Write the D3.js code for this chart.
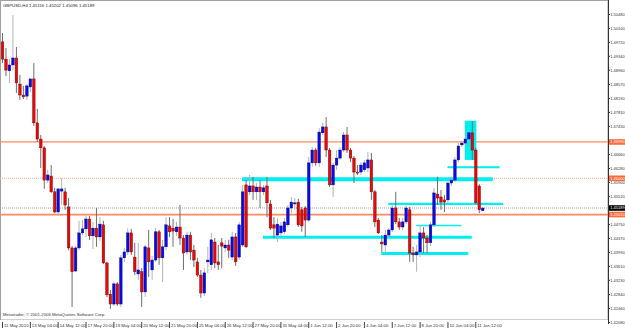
<!DOCTYPE html>
<html>
<head>
<meta charset="utf-8">
<script src="https://cdn.jsdelivr.net/npm/d3@7"></script>
<style>
body { margin: 0; background: #fff; }
text { font-family: "Liberation Sans", Arial, sans-serif; }
</style>
</head>
<body>
<div id="chart"></div>
<script>
var title = "GBPUSD,H4 1.45116 1.45202 1.45096 1.45189";
var copyright = "Metatrader, \u00a9 2001-2006 MetaQuotes Software Corp.";

// H4 bars, 11 May 2010 20:00 -> 11 Jun 2010 20:00
var opens = [
1.4972,1.4925,1.4893,1.4909,1.4928,1.4857,1.4827,1.4824,1.4849,1.4871,
1.4751,1.4707,1.4683,1.4595,1.4606,1.4563,1.4508,1.4565,1.4563,1.4522,
1.4410,1.4347,1.4410,1.4451,1.4462,1.4489,1.4443,1.4464,1.4440,1.4473,
1.4369,1.4284,1.4257,1.4312,1.4257,1.4383,1.4399,1.4451,1.4385,1.4339,
1.4345,1.4290,1.4410,1.4350,1.4377,1.4454,1.4383,1.4413,1.4470,1.4464,
1.4454,1.4467,1.4437,1.4399,1.4445,1.4404,1.4372,1.4336,1.4287,1.4372,
1.4364,1.4426,1.4372,1.4424,1.4410,1.4418,1.4385,1.4440,1.4385,1.4418,
1.4582,1.4563,1.4579,1.4563,1.4576,1.4563,1.4579,1.4530,1.4473,1.4445,
1.4451,1.4454,1.4473,1.4519,1.4530,1.4535,1.4514,1.4519,1.4486,1.4642,
1.4677,1.4642,1.4724,1.4740,1.4677,1.4582,1.4636,1.4655,1.4677,1.4718,
1.4677,1.4655,1.4617,1.4617,1.4623,1.4628,1.4650,1.4563,1.4486,1.4426,
1.4418,1.4445,1.4459,1.4519,1.4481,1.4467,1.4481,1.4514,1.4396,1.4391,
1.4399,1.4451,1.4437,1.4424,1.4473,1.4557,1.4549,1.4541,1.4541,1.4587,
1.4595,1.4650,1.4691,1.4696,1.4707,1.4724,1.4677,1.4579,1.45116
];
var highs = [
1.4996,1.4955,1.4925,1.5045,1.4958,1.4882,1.4852,1.4857,1.4871,1.4914,
1.4789,1.4718,1.4688,1.4623,1.4636,1.4574,1.4574,1.4601,1.4574,1.4546,
1.4415,1.4415,1.4484,1.4486,1.4497,1.4497,1.4481,1.4519,1.4494,1.4484,
1.4372,1.4295,1.4317,1.4317,1.4391,1.4410,1.4464,1.4462,1.4424,1.4424,
1.4355,1.4418,1.4459,1.4388,1.4464,1.4459,1.4432,1.4494,1.4494,1.4489,
1.4481,1.4527,1.4445,1.4454,1.4454,1.4418,1.4383,1.4350,1.4355,1.4413,
1.4451,1.4437,1.4418,1.4437,1.4432,1.4432,1.4454,1.4451,1.4481,1.4582,
1.4595,1.4609,1.4604,1.4587,1.4595,1.4582,1.4604,1.4541,1.4494,1.4492,
1.4481,1.4492,1.4527,1.4549,1.4546,1.4544,1.4522,1.4524,1.4658,1.4685,
1.4683,1.4737,1.4751,1.4767,1.4683,1.4642,1.4677,1.4685,1.4726,1.4740,
1.4683,1.4661,1.4636,1.4644,1.4650,1.4672,1.4669,1.4568,1.4492,1.4445,
1.4459,1.4464,1.4527,1.4563,1.4492,1.4492,1.4527,1.4522,1.4413,1.4418,
1.4473,1.4467,1.4445,1.4481,1.4574,1.4604,1.4568,1.4554,1.4595,1.4604,
1.4658,1.4696,1.4702,1.4715,1.4729,1.4756,1.4683,1.4584,1.45202
];
var lows = [
1.4914,1.4879,1.4860,1.4895,1.4833,1.4814,1.4816,1.4814,1.4835,1.4743,
1.4699,1.4628,1.4571,1.4587,1.4560,1.4505,1.4497,1.4527,1.4514,1.4404,
1.4249,1.4345,1.4404,1.4445,1.4440,1.4432,1.4407,1.4413,1.4429,1.4366,
1.4276,1.4244,1.4252,1.4252,1.4249,1.4372,1.4391,1.4391,1.4336,1.4323,
1.4249,1.4276,1.4331,1.4323,1.4372,1.4364,1.4317,1.4404,1.4440,1.4413,
1.4443,1.4418,1.4350,1.4391,1.4377,1.4358,1.4331,1.4274,1.4279,1.4342,
1.4350,1.4355,1.4350,1.4355,1.4399,1.4383,1.4377,1.4361,1.4377,1.4413,
1.4410,1.4554,1.4541,1.4541,1.4519,1.4554,1.4494,1.4459,1.4437,1.4426,
1.4443,1.4448,1.4467,1.4505,1.4514,1.4467,1.4454,1.4440,1.4481,1.4631,
1.4634,1.4631,1.4718,1.4658,1.4576,1.4549,1.4623,1.4650,1.4672,1.4669,
1.4644,1.4587,1.4609,1.4609,1.4617,1.4617,1.4541,1.4467,1.4448,1.4399,
1.4396,1.4437,1.4454,1.4475,1.4459,1.4459,1.4475,1.4372,1.4372,1.4345,
1.4385,1.4396,1.4396,1.4415,1.4467,1.4527,1.4514,1.4508,1.4533,1.4579,
1.4590,1.4644,1.4685,1.4691,1.4702,1.4650,1.4530,1.4505,1.45096
];
var closes = [
1.4925,1.4895,1.4909,1.4928,1.4860,1.4827,1.4822,1.4852,1.4871,1.4751,
1.4707,1.4683,1.4595,1.4609,1.4563,1.4508,1.4571,1.4571,1.4527,1.4410,
1.4345,1.4410,1.4451,1.4462,1.4489,1.4443,1.4464,1.4440,1.4475,1.4369,
1.4282,1.4257,1.4312,1.4257,1.4383,1.4399,1.4451,1.4399,1.4345,1.4350,
1.4290,1.4413,1.4372,1.4377,1.4454,1.4383,1.4413,1.4473,1.4454,1.4456,
1.4467,1.4437,1.4396,1.4445,1.4399,1.4377,1.4336,1.4287,1.4342,1.4377,
1.4432,1.4369,1.4364,1.4415,1.4418,1.4404,1.4440,1.4372,1.4473,1.4563,
1.4413,1.4579,1.4563,1.4576,1.4563,1.4574,1.4533,1.4464,1.4464,1.4475,
1.4470,1.4481,1.4519,1.4535,1.4533,1.4473,1.4470,1.4486,1.4642,1.4677,
1.4642,1.4726,1.4740,1.4677,1.4582,1.4636,1.4655,1.4677,1.4718,1.4677,
1.4655,1.4617,1.4614,1.4636,1.4642,1.4650,1.4563,1.4481,1.4451,1.4421,
1.4445,1.4459,1.4519,1.4481,1.4467,1.4481,1.4519,1.4396,1.4391,1.4399,
1.4451,1.4437,1.4424,1.4473,1.4560,1.4546,1.4535,1.4535,1.4587,1.4595,
1.4650,1.4688,1.4696,1.4707,1.4724,1.4677,1.4533,1.4514,1.45189
];

// one label every 8 bars
var timeLabels = ["11 May 2010", "13 May 04:00", "14 May 12:00", "17 May 20:00",
  "19 May 04:00", "20 May 12:00", "21 May 20:00", "25 May 04:00", "26 May 12:00",
  "27 May 20:00", "31 May 04:00", "1 Jun 12:00", "2 Jun 20:00", "4 Jun 04:00",
  "7 Jun 12:00", "8 Jun 20:00", "10 Jun 04:00", "11 Jun 12:00"];

var priceTicks = [1.50480, 1.50100, 1.49720, 1.49340, 1.48960, 1.48570, 1.48190,
  1.47810, 1.47430, 1.47050, 1.46660, 1.46280, 1.45900, 1.45520, 1.45140,
  1.44750, 1.44370, 1.43990, 1.43610, 1.43230, 1.42840, 1.42460, 1.42080];

// horizontal lines
var solidLevels = [1.46990, 1.45010];
var dottedLevel = 1.46000;
var bidPrice = 1.45189;

// cyan trend lines: start bar, end bar, price
var trendFrom = [69, 75, 109, 111, 119, 128];
var trendTo = [141, 135, 134, 144, 132, 143];
var trendPrice = [1.4597, 1.4439, 1.4395, 1.4530, 1.4471, 1.4630];
// cyan rectangle
var rectFrom = 133, rectTo = 136.3, rectTop = 1.4757, rectBottom = 1.4650;

var width = 625, height = 330;
var plotRight = 608, plotBottom = 320;
var fontSize = 4;

var svg = d3.select("#chart").append("svg")
    .attr("width", width)
    .attr("height", height)
    .style("display", "block");

svg.append("rect").attr("width", width).attr("height", height).attr("fill", "#fff");

var x = d3.scaleLinear().domain([0, opens.length - 1]).range([2, 2 + 3.48 * (opens.length - 1)]);
var y = d3.scaleLinear().domain([1.42080, 1.50480]).range([322, 14]);

svg.append("clipPath").attr("id", "plot")
  .append("rect").attr("x", 0).attr("y", 0).attr("width", plotRight).attr("height", plotBottom);

var plot = svg.append("g").attr("clip-path", "url(#plot)");

// frame
plot.append("rect")
    .attr("x", 0.5).attr("y", 0.5)
    .attr("width", plotRight - 0.5).attr("height", plotBottom - 0.5)
    .attr("fill", "none").attr("stroke", "#a0a0a0");

// price level lines
plot.selectAll(".level")
  .data(solidLevels)
  .enter().append("line")
    .attr("class", "level")
    .attr("x1", 0).attr("x2", plotRight)
    .attr("y1", d => y(d)).attr("y2", d => y(d))
    .attr("stroke", "#fa8a63")
    .attr("stroke-width", (d, i) => i == 1 ? 1.8 : 1.2);

plot.append("line")
    .attr("x1", 0).attr("x2", plotRight)
    .attr("y1", y(dottedLevel)).attr("y2", y(dottedLevel))
    .attr("stroke", "#fbab94").attr("stroke-width", 1)
    .attr("stroke-dasharray", "1,1");

plot.append("line")
    .attr("x1", 0).attr("x2", plotRight)
    .attr("y1", y(bidPrice)).attr("y2", y(bidPrice))
    .attr("stroke", "#9aa2bc").attr("stroke-width", 1)
    .attr("stroke-dasharray", "1,1");

// cyan objects
var trendWidth = [4, 3, 3, 2.2, 1.6, 2];
plot.selectAll(".trend")
  .data(trendPrice)
  .enter().append("line")
    .attr("class", "trend")
    .attr("x1", (d, i) => x(trendFrom[i]))
    .attr("x2", (d, i) => x(trendTo[i]))
    .attr("y1", d => y(d)).attr("y2", d => y(d))
    .attr("stroke", "#00eef0")
    .attr("stroke-width", (d, i) => trendWidth[i]);

plot.append("rect")
    .attr("x", x(rectFrom)).attr("y", y(rectTop))
    .attr("width", x(rectTo) - x(rectFrom))
    .attr("height", y(rectBottom) - y(rectTop))
    .attr("fill", "#00eef0");

// candles
var bars = d3.range(opens.length);
var up = i => closes[i] >= opens[i];

plot.selectAll(".wick")
  .data(bars)
  .enter().append("line")
    .attr("class", "wick")
    .attr("x1", i => x(i) + 0.5).attr("x2", i => x(i) + 0.5)
    .attr("y1", i => y(highs[i])).attr("y2", i => y(lows[i]))
    .attr("stroke", i => up(i) ? "#b4b4b4" : "#6e6e6e")
    .attr("stroke-width", 1);

plot.selectAll(".body")
  .data(bars)
  .enter().append("rect")
    .attr("class", "body")
    .attr("x", i => x(i) - 0.8)
    .attr("width", 2.6)
    .attr("y", i => y(Math.max(opens[i], closes[i])))
    .attr("height", i => Math.max(1, Math.abs(y(opens[i]) - y(closes[i]))))
    .attr("fill", i => up(i) ? "#0a0ae6" : "#e40a0a")
    .attr("stroke", i => up(i) ? "#00007a" : "#780000")
    .attr("stroke-width", 0.4);

// right price axis
var hidden = solidLevels.concat([bidPrice]);
var yAxis = svg.append("g")
    .attr("transform", "translate(" + plotRight + ",0)")
    .call(d3.axisRight(y)
        .tickValues(priceTicks.filter(t => hidden.every(h => Math.abs(y(t) - y(h)) > 3.5)))
        .tickFormat(d3.format(".5f"))
        .tickSize(2)
        .tickSizeOuter(0));
yAxis.select(".domain").attr("stroke", "#333").attr("d", "M0.5,0V" + (height - 6));
yAxis.selectAll(".tick line").attr("stroke", "#333");
yAxis.selectAll(".tick text")
    .attr("x", 2.2).attr("font-size", fontSize).attr("fill", "#333")
    .attr("font-family", "'Liberation Sans', Arial, sans-serif");

// price boxes on the axis
var boxes = [
  {p: solidLevels[0], bg: "#ff6a3a"},
  {p: dottedLevel, bg: "#ff6a3a"},
  {p: bidPrice, bg: "#000"},
  {p: solidLevels[1], bg: "#ff6a3a"}
];
var boxG = svg.selectAll(".pbox")
  .data(boxes)
  .enter().append("g")
    .attr("class", "pbox")
    .attr("transform", d => "translate(" + (plotRight + 1) + "," + y(d.p) + ")");
boxG.append("rect")
    .attr("x", 0).attr("y", -2.8)
    .attr("width", width - plotRight - 1).attr("height", 5.6)
    .attr("fill", d => d.bg);
boxG.append("text")
    .attr("x", 1.2).attr("dy", "0.35em")
    .attr("font-size", fontSize).attr("fill", "#fff")
    .text(d => d3.format(".5f")(d.p));

// time axis
var xAxis = svg.append("g")
    .attr("transform", "translate(0," + plotBottom + ")")
    .call(d3.axisBottom(x)
        .tickValues(timeLabels.map((d, i) => i * 8))
        .tickFormat(i => timeLabels[i / 8])
        .tickSize(8)
        .tickSizeOuter(0));
xAxis.select(".domain").remove();
xAxis.selectAll(".tick line").attr("stroke", "#444").attr("y1", 2);
xAxis.selectAll(".tick text")
    .attr("text-anchor", "start")
    .attr("x", 1.5).attr("y", 4).attr("dy", "0.8em")
    .attr("font-size", 4.3).attr("fill", "#333")
    .attr("font-family", "'Liberation Sans', Arial, sans-serif");

// header and copyright
svg.append("text")
    .attr("x", 3).attr("y", 7)
    .attr("font-size", 4.3).attr("fill", "#222")
    .text(title);

svg.append("text")
    .attr("x", 3).attr("y", 316)
    .attr("font-size", 4.3).attr("fill", "#333")
    .text(copyright);
</script>
</body>
</html>
